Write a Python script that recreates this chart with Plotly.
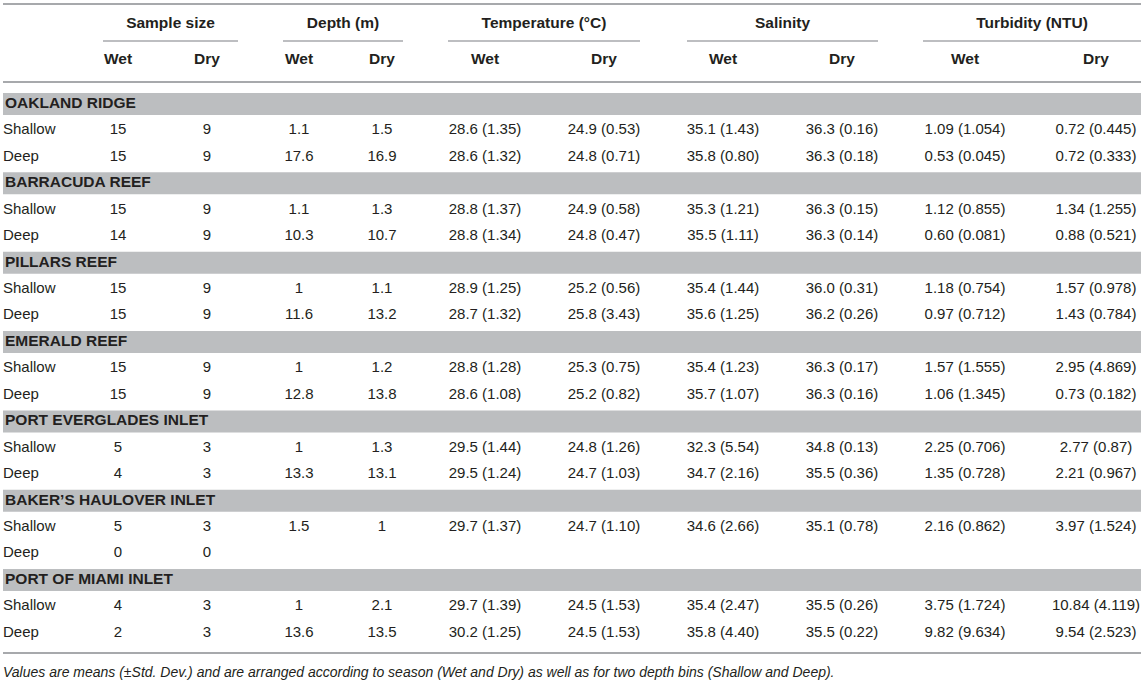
import plotly.graph_objects as go

# ---- table data ----
sites = ["OAKLAND RIDGE", "BARRACUDA REEF", "PILLARS REEF", "EMERALD REEF",
         "PORT EVERGLADES INLET", "BAKER\u2019S HAULOVER INLET", "PORT OF MIAMI INLET"]
depth_bins = ["Shallow", "Deep"]

# one entry per site x depth bin (Shallow, Deep), in site order
n_wet = [15, 15, 15, 14, 15, 15, 15, 15, 5, 4, 5, 0, 4, 2]
n_dry = [9, 9, 9, 9, 9, 9, 9, 9, 3, 3, 3, 0, 3, 3]
depth_wet = ["1.1", "17.6", "1.1", "10.3", "1", "11.6", "1", "12.8", "1", "13.3", "1.5", "", "1", "13.6"]
depth_dry = ["1.5", "16.9", "1.3", "10.7", "1.1", "13.2", "1.2", "13.8", "1.3", "13.1", "1", "", "2.1", "13.5"]
temp_wet = ["28.6 (1.35)", "28.6 (1.32)", "28.8 (1.37)", "28.8 (1.34)", "28.9 (1.25)", "28.7 (1.32)",
            "28.8 (1.28)", "28.6 (1.08)", "29.5 (1.44)", "29.5 (1.24)", "29.7 (1.37)", "",
            "29.7 (1.39)", "30.2 (1.25)"]
temp_dry = ["24.9 (0.53)", "24.8 (0.71)", "24.9 (0.58)", "24.8 (0.47)", "25.2 (0.56)", "25.8 (3.43)",
            "25.3 (0.75)", "25.2 (0.82)", "24.8 (1.26)", "24.7 (1.03)", "24.7 (1.10)", "",
            "24.5 (1.53)", "24.5 (1.53)"]
sal_wet = ["35.1 (1.43)", "35.8 (0.80)", "35.3 (1.21)", "35.5 (1.11)", "35.4 (1.44)", "35.6 (1.25)",
           "35.4 (1.23)", "35.7 (1.07)", "32.3 (5.54)", "34.7 (2.16)", "34.6 (2.66)", "",
           "35.4 (2.47)", "35.8 (4.40)"]
sal_dry = ["36.3 (0.16)", "36.3 (0.18)", "36.3 (0.15)", "36.3 (0.14)", "36.0 (0.31)", "36.2 (0.26)",
           "36.3 (0.17)", "36.3 (0.16)", "34.8 (0.13)", "35.5 (0.36)", "35.1 (0.78)", "",
           "35.5 (0.26)", "35.5 (0.22)"]
turb_wet = ["1.09 (1.054)", "0.53 (0.045)", "1.12 (0.855)", "0.60 (0.081)", "1.18 (0.754)", "0.97 (0.712)",
            "1.57 (1.555)", "1.06 (1.345)", "2.25 (0.706)", "1.35 (0.728)", "2.16 (0.862)", "",
            "3.75 (1.724)", "9.82 (9.634)"]
turb_dry = ["0.72 (0.445)", "0.72 (0.333)", "1.34 (1.255)", "0.88 (0.521)", "1.57 (0.978)", "1.43 (0.784)",
            "2.95 (4.869)", "0.73 (0.182)", "2.77 (0.87)", "2.21 (0.967)", "3.97 (1.524)", "",
            "10.84 (4.119)", "9.54 (2.523)"]

groups = ["Sample size", "Depth (m)", "Temperature (\u00b0C)", "Salinity", "Turbidity (NTU)"]
seasons = ["Wet", "Dry"]
note = ("Values are means (\u00b1Std. Dev.) and are arranged according to season (Wet and Dry) "
        "as well as for two depth bins (Shallow and Deep).")

# ---- layout (pixels of the browser window) ----
W, H = 1145, 682
col_x = [118, 207, 299, 382, 485, 604, 723, 842, 965, 1096]
group_span = [(103, 238), (283, 403), (448, 640), (687, 878), (923, 1141)]
ROW0, STEP = 104, 26.45
LEFT, RIGHT = 3, 1141
INK = "#231f20"
RULE = "#a7a9ac"
BAND = "#bcbec0"
FONT = "Liberation Sans, Arial, sans-serif"

columns = [[str(v) for v in n_wet], [str(v) for v in n_dry], depth_wet, depth_dry,
           temp_wet, temp_dry, sal_wet, sal_dry, turb_wet, turb_dry]

fig = go.Figure()
shapes = []

band_y, row_y, row_lab = [], [], []
for s, site in enumerate(sites):
    yb = ROW0 + 3 * s * STEP
    band_y.append(yb)
    shapes.append(dict(type="rect", xref="x", yref="y", x0=LEFT, x1=RIGHT,
                       y0=yb - 11, y1=yb + 11, fillcolor=BAND, line_width=0, layer="below"))
    for d, lab in enumerate(depth_bins):
        row_y.append(yb + (d + 1) * STEP)
        row_lab.append(lab)

# site names on grey bands
fig.add_trace(go.Scatter(x=[LEFT + 2] * len(sites), y=band_y, text=sites, mode="text",
                         textposition="middle right",
                         textfont=dict(family=FONT, size=15.5, color=INK, weight="bold")))
# depth bin labels
fig.add_trace(go.Scatter(x=[LEFT] * len(row_lab), y=row_y, text=row_lab, mode="text",
                         textposition="middle right",
                         textfont=dict(family=FONT, size=15, color=INK)))
# value cells
for cx, vals in zip(col_x, columns):
    fig.add_trace(go.Scatter(x=[cx] * len(vals), y=row_y, text=vals, mode="text",
                             textposition="middle center",
                             textfont=dict(family=FONT, size=15, color=INK)))

# group headers + season subheaders
g_cx = [(a + b) / 2 for a, b in group_span]
fig.add_trace(go.Scatter(x=g_cx, y=[24] * len(groups), text=groups, mode="text",
                         textposition="middle center",
                         textfont=dict(family=FONT, size=15.5, color=INK, weight="bold")))
fig.add_trace(go.Scatter(x=col_x, y=[60] * len(col_x), text=seasons * len(groups), mode="text",
                         textposition="middle center",
                         textfont=dict(family=FONT, size=15.5, color=INK, weight="bold")))

# footnote
fig.add_trace(go.Scatter(x=[LEFT], y=[673], text=[note], mode="text",
                         textposition="middle right",
                         textfont=dict(family=FONT, size=14, color=INK, style="italic")))

# rules
for y in (4, 82, 653):
    shapes.append(dict(type="line", xref="x", yref="y", x0=LEFT, x1=RIGHT, y0=y, y1=y,
                       line=dict(color=RULE, width=2)))
for a, b in group_span:
    shapes.append(dict(type="line", xref="x", yref="y", x0=a, x1=b, y0=41, y1=41,
                       line=dict(color=RULE, width=1.5)))

fig.update_traces(hoverinfo="skip", cliponaxis=False, showlegend=False)
fig.update_layout(
    width=W, height=H, margin=dict(l=0, r=0, t=0, b=0),
    paper_bgcolor="white", plot_bgcolor="white", shapes=shapes,
    xaxis=dict(range=[0, W], visible=False, fixedrange=True),
    yaxis=dict(range=[H, 0], visible=False, fixedrange=True),
)

# drop the default page margin so the table sits flush with the window
fig.write_html("out.html", config={"displayModeBar": False},
               post_script="document.body.style.margin='0';")
